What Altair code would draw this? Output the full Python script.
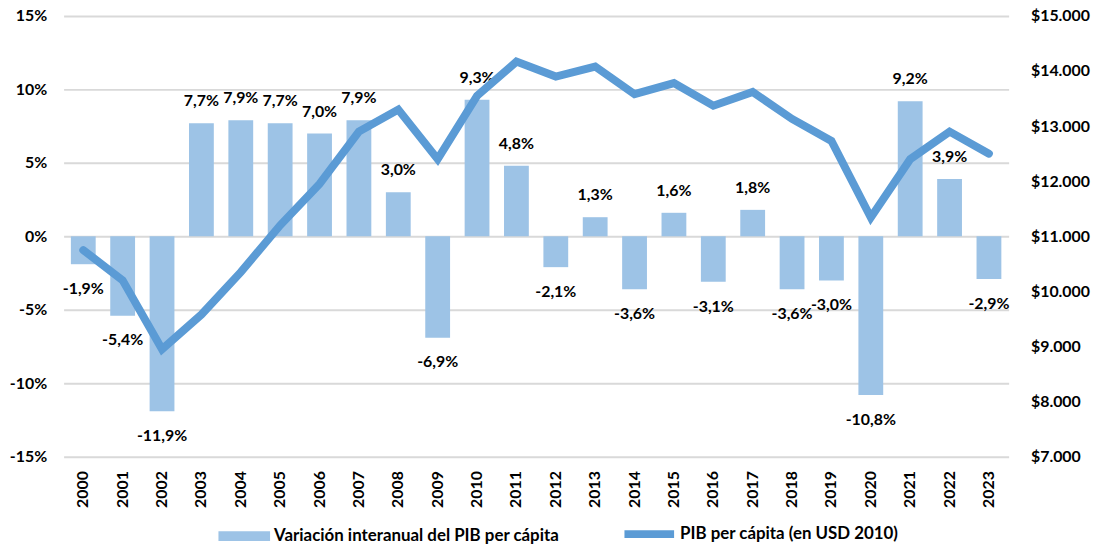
import altair as alt
import pandas as pd

years = [str(y) for y in range(2000, 2024)]
variacion = [-1.9, -5.4, -11.9, 7.7, 7.9, 7.7, 7.0, 7.9, 3.0, -6.9, 9.3, 4.8,
             -2.1, 1.3, -3.6, 1.6, -3.1, 1.8, -3.6, -3.0, -10.8, 9.2, 3.9, -2.9]
pib = [10750, 10200, 8950, 9580, 10350, 11200, 11950, 12900, 13300, 12400, 13550, 14170,
       13900, 14080, 13580, 13780, 13370, 13620, 13130, 12730, 11340, 12400, 12900, 12500]

bar_name = "Variación interanual del PIB per cápita"
line_name = "PIB per cápita (en USD 2010)"

df = pd.DataFrame({"year": years, "var": variacion, "pib": pib})
df["label"] = [f"{v:.1f}".replace(".", ",") + "%" for v in variacion]
df["serie_bar"] = bar_name
df["serie_line"] = line_name

FONT = "Lato"
FS = 16
LEG_FS = 17
BAR_COLOR = "#9DC3E6"
LINE_COLOR = "#5B9BD5"

x = alt.X("year:N", title=None,
          scale=alt.Scale(paddingInner=0.37, paddingOuter=0.185),
          axis=alt.Axis(labelAngle=-90, labelFont=FONT, labelFontWeight="bold",
                        labelFontSize=FS, labelColor="#000000", labelPadding=14,
                        domain=False, ticks=False, grid=False, labelBaseline="middle",
                        labelAlign="right"))

yleft = alt.Y("var:Q", title=None,
              scale=alt.Scale(domain=[-15, 15], nice=False),
              axis=alt.Axis(values=[-15, -10, -5, 0, 5, 10, 15],
                            labelExpr="datum.value + '%'",
                            labelFont=FONT, labelFontWeight="bold", labelFontSize=FS,
                            labelColor="#000000", labelPadding=17,
                            domain=False, ticks=False, grid=True,
                            gridColor="#D9D9D9", gridWidth=2))

base = alt.Chart(df)

bars = base.mark_bar(color=BAR_COLOR).encode(
    x=x, y=yleft,
    fill=alt.Fill("serie_bar:N", scale=alt.Scale(range=[BAR_COLOR]),
                  legend=alt.Legend(title=None, orient="none", legendX=156, legendY=498,
                                    padding=0,
                                    symbolType="M-1,-0.19H1V0.19H-1Z", symbolSize=2704,
                                    symbolStrokeWidth=0, labelFont=FONT,
                                    labelFontWeight="bold", labelFontSize=LEG_FS,
                                    labelColor="#000000", labelOffset=4, labelLimit=400))
)

pos_text = base.transform_filter("datum.var >= 0").mark_text(
    font=FONT, fontWeight="bold", fontSize=FS, color="#000000", dy=-22
).encode(x=x, y=yleft, text="label:N")

neg_text = base.transform_filter("datum.var < 0").mark_text(
    font=FONT, fontWeight="bold", fontSize=FS, color="#000000", dy=25
).encode(x=x, y=yleft, text="label:N")

left = alt.layer(bars, pos_text, neg_text)

line = base.mark_line(strokeWidth=8, strokeJoin="miter", strokeCap="round").encode(
    x=x,
    y=alt.Y("pib:Q", title=None,
            scale=alt.Scale(domain=[7000, 15000], nice=False),
            axis=alt.Axis(orient="right", values=list(range(7000, 16000, 1000)),
                          labelExpr="'$' + replace(format(datum.value, ',.0f'), ',', '.')",
                          labelFont=FONT, labelFontWeight="bold", labelFontSize=FS,
                          labelColor="#000000", labelPadding=22,
                          domain=False, ticks=False, grid=False)),
    stroke=alt.Stroke("serie_line:N", scale=alt.Scale(range=[LINE_COLOR]),
                      legend=alt.Legend(title=None, orient="none", legendX=561, legendY=493,
                                        padding=0,
                                        symbolType="stroke", symbolSize=2500,
                                        symbolStrokeWidth=8, labelFont=FONT,
                                        labelFontWeight="bold", labelFontSize=LEG_FS,
                                        labelColor="#000000", labelOffset=2, labelLimit=400))
)

chart = alt.layer(left, line).resolve_scale(y="independent", fill="independent",
                                             stroke="independent").properties(
    width=952, height=444,
    background="#FFFFFF",
    autosize=alt.AutoSizeParams(type="none"),
    padding={"left": 56, "top": 6, "right": 86, "bottom": 89},
).configure_view(stroke="transparent", strokeWidth=0)

chart.save("out.html", embed_options={"renderer": "svg", "actions": False})
